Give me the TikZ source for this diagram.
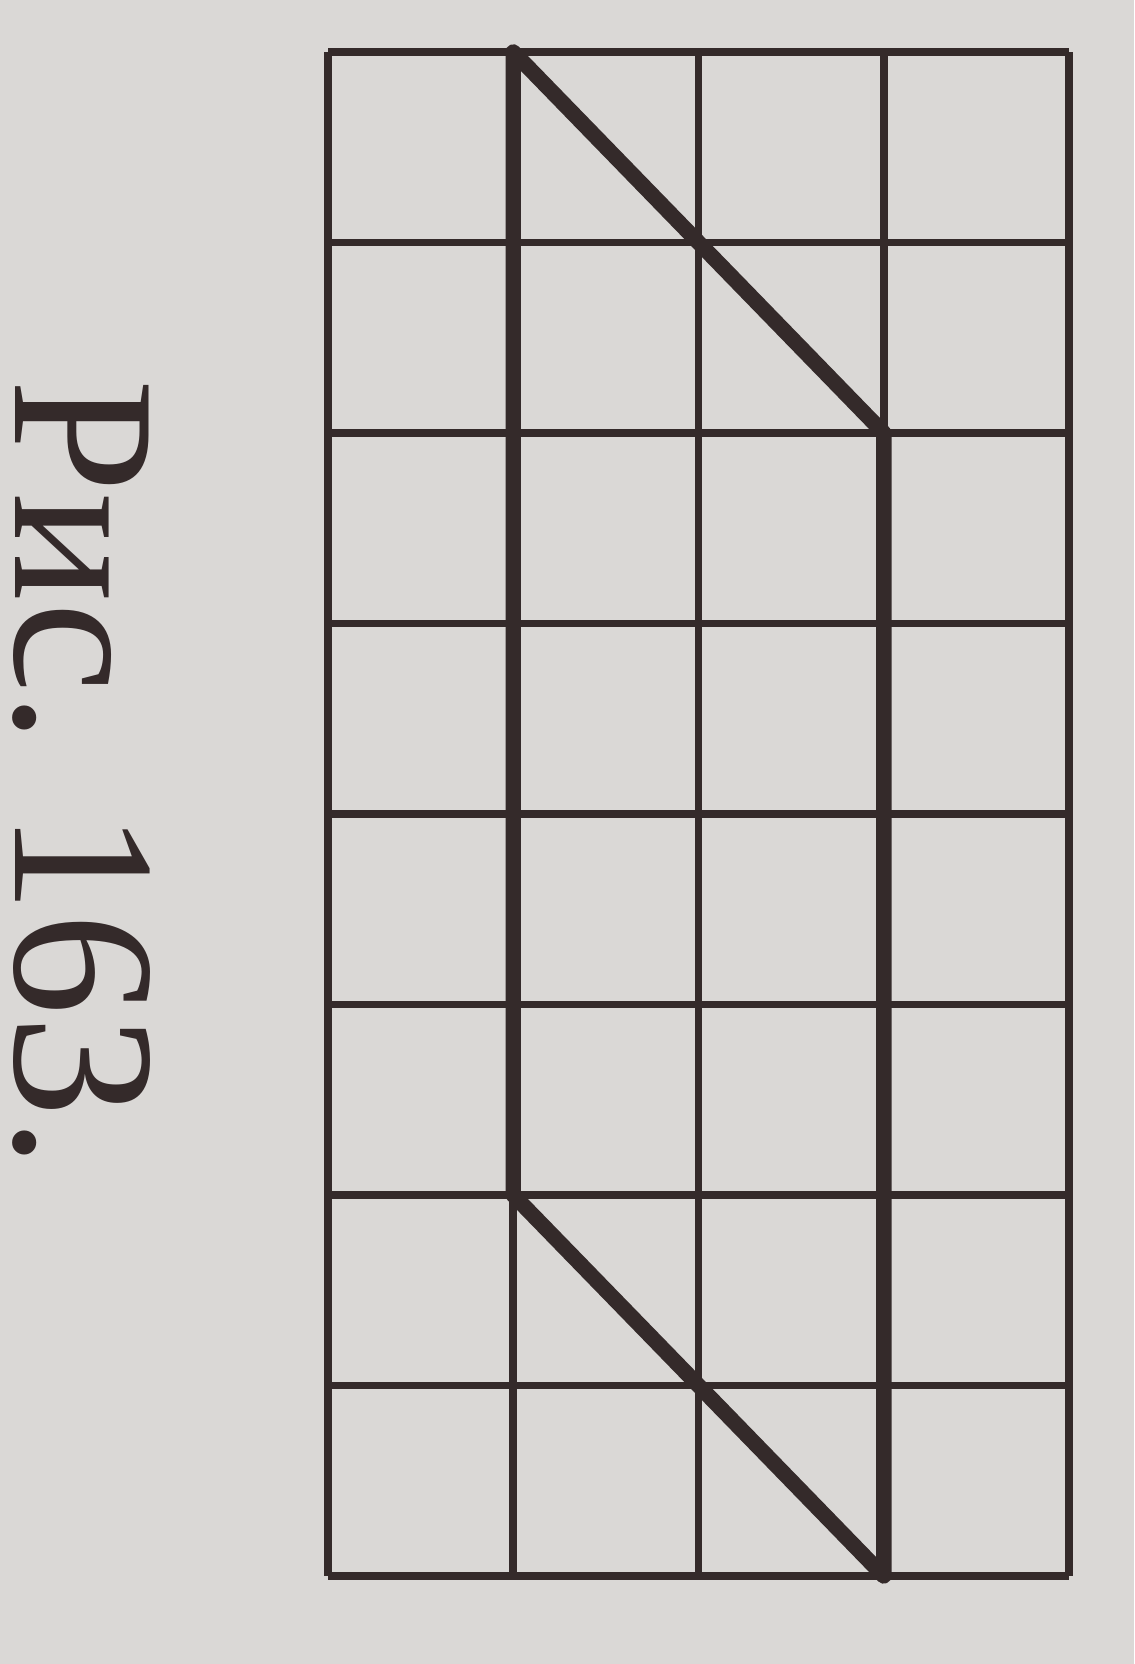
\documentclass[tikz,border=0pt]{standalone}
\usepackage{fontspec}
\setmainfont{Liberation Serif}
\usepackage{tikz}

\definecolor{paper}{RGB}{218,216,214}
\definecolor{ink}{RGB}{52,42,42}

\begin{document}
\begin{tikzpicture}[
    thinline/.style={ink, line width=2.2pt},
    boldline/.style={ink, line width=4.4pt, line join=round}]
    \useasboundingbox (0,0) rectangle (11.34,16.64);
    \fill[paper] (0,0) rectangle (11.34,16.64);

    % Caption, turned along the left edge
    \node[ink, rotate=-90, anchor=base west, inner sep=0pt,
          font=\fontsize{58}{58}\selectfont] (caption) at (0.16,12.85) {Рис. 163.};

    \begin{scope}[shift={(3.28,0.88)}, x=1.8525cm, y=1.905cm]
        % Squared paper, 4 by 8 cells
        \foreach \i in {0,...,4}
            \draw[thinline] (\i,0) -- (\i,8);
        \foreach \j in {0,...,8}
            \draw[thinline] (0,\j) -- (4,\j);

        % Corners of the parallelogram
        \coordinate (topleft) at (1,8);
        \coordinate (topright) at (3,6);
        \coordinate (bottomright) at (3,0);
        \coordinate (bottomleft) at (1,2);

        \draw[boldline] (topleft) -- (topright) -- (bottomright)
            -- (bottomleft) -- cycle;
    \end{scope}
\end{tikzpicture}
\end{document}
